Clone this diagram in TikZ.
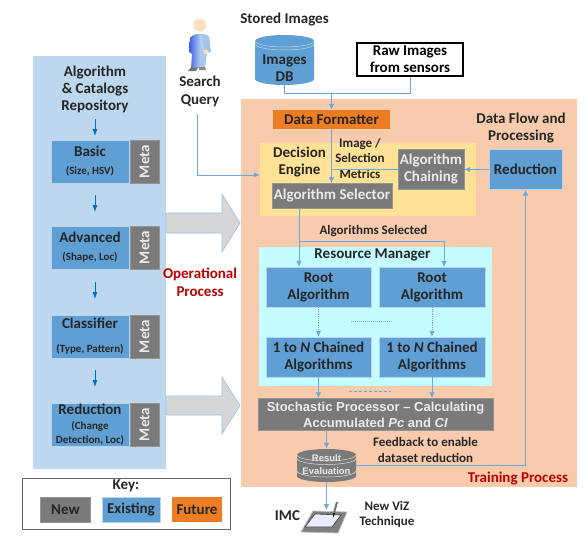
\documentclass[tikz,border=0pt]{standalone}
\usepackage{fontspec}
\setmainfont{Carlito}
\newfontfamily\arialfont{Liberation Sans}
\usetikzlibrary{arrows.meta,positioning}
\definecolor{panelblue}{HTML}{BDD7EE}
\definecolor{boxblue}{HTML}{5F9FD3}
\definecolor{boxgray}{HTML}{7A7A7A}
\definecolor{boxorange}{HTML}{ED7D22}
\definecolor{panelpeach}{HTML}{F7CBAC}
\definecolor{panelyellow}{HTML}{FFE296}
\definecolor{panelcyan}{HTML}{C4FCFF}
\definecolor{linkblue}{HTML}{6FA8DC}
\definecolor{arrowgray}{HTML}{D6D6D6}
\definecolor{darkred}{HTML}{C00000}
\newcommand{\subtext}[1]{{\fontsize{11}{12}\selectfont #1}}
\begin{document}
\begin{tikzpicture}[
  x=1pt, y=-1pt,
  block/.style={inner sep=0pt, align=center,
    font=\fontsize{15}{17}\selectfont\bfseries, text=black!85},
  existing/.style={block, fill=boxblue, draw=linkblue!50, line width=0.4pt},
  newblock/.style={block, fill=boxgray, draw=boxgray!80, line width=0.4pt, text=white!92!black},
  future/.style={block, fill=boxorange},
  meta/.style={newblock, minimum width=43pt, minimum height=29pt, rotate=90},
  repo/.style={existing, minimum width=78pt, minimum height=43pt},
  panel/.style={inner sep=0pt, draw=none},
  label/.style={inner sep=0pt, align=center, text=black!85,
    font=\fontsize{15}{17}\selectfont\bfseries},
  small/.style={label, font=\fontsize{13}{15.5}\selectfont\bfseries},
  redlabel/.style={label, text=darkred},
  arrow/.style={-{Latex[length=6pt,width=5.5pt]}, linkblue, line width=0.8pt},
  link/.style={linkblue, line width=0.8pt},
  dotarrow/.style={arrow, densely dotted, line width=1pt},
  repoarrow/.style={-{Latex[length=7pt,width=5pt]}, blue!45!cyan!80!black, line width=0.8pt},
  bigarrow/.style={fill=arrowgray, draw=linkblue!70, line width=0.6pt},
  rim/.style={x radius=29.5pt, y radius=6pt}
]
\useasboundingbox (0,0) rectangle (588,543);

\node[panel, fill=panelblue, minimum width=133pt, minimum height=413pt] (repository) at (99.5,262.5) {};
\node[panel, fill=panelpeach, minimum width=336pt, minimum height=388pt] (training) at (409,293) {};
\node[panel, fill=panelyellow, minimum width=216pt, minimum height=73pt] (decision) at (368,179.5) {};
\node[panel, fill=panelcyan, minimum width=233pt, minimum height=139pt] (manager) at (375.5,316.5) {};

\fill[boxblue] (255,41) -- (255,79) arc[rim, start angle=180, end angle=360] -- (314,41) arc[rim, start angle=0, end angle=180] -- cycle;
\draw[white!60!boxblue, line width=0.5pt] (255,41) arc[rim, start angle=180, end angle=360]
  (255,44) arc[rim, start angle=180, end angle=360];
\fill[boxgray] (297,455) -- (297,476) arc[rim, start angle=180, end angle=360] -- (356,455) arc[rim, start angle=0, end angle=180] -- cycle;
\draw[white!75!gray, line width=0.5pt] (297,455) arc[rim, start angle=180, end angle=360]
  (297,458.5) arc[rim, start angle=180, end angle=360]
  (297,471) arc[rim, start angle=180, end angle=360];

\node[label] (repotitle) at (95,89.5) {Algorithm\\\& Catalogs\\Repository};
\node[repo] (basic) at (90,161.5) {Basic\\[1pt]\subtext{(Size, HSV)}};
\node[meta] (basicmeta) at (144.5,161.5) {Meta};
\node[repo] (advanced) at (90,247.5) {Advanced\\[1pt]\subtext{(Shape, Loc)}};
\node[meta] (advancedmeta) at (144.5,247.5) {Meta};
\node[repo] (classifier) at (90,336.5) {Classifier\\[7pt]\subtext{(Type, Pattern)}};
\node[meta] (classifiermeta) at (144.5,336.5) {Meta};
\node[repo] (reductionrepo) at (90,424.5) {Reduction\\[-2pt]\subtext{(Change}\\[-3pt]\subtext{Detection, Loc)}};
\node[meta] (reductionmeta) at (144.5,424.5) {Meta};

\node[draw=black!60, line width=0.7pt, minimum width=208pt, minimum height=51pt, inner sep=0pt] (keybox) at (126,503.5) {};
\node[label] (keytitle) at (126,486) {Key:};
\node[newblock, text=black!85, minimum width=50pt, minimum height=25pt] (keynew) at (65.5,509.5) {New};
\node[existing, minimum width=58pt, minimum height=25pt] (keyexisting) at (131,509.5) {Existing};
\node[future, minimum width=50pt, minimum height=25pt] (keyfuture) at (197,509.5) {Future};

\node[label] (storedlabel) at (284.5,20) {Stored Images};
\node[panel, minimum width=59pt, minimum height=50pt] (imagesdb) at (284.5,60) {};
\node[label, yshift=-8pt] (imagesdblabel) at (imagesdb) {Images\\DB};
\node[draw=black, line width=1.4pt, minimum width=106pt, minimum height=33pt, inner sep=0pt,
  align=center, font=\fontsize{15}{17}\selectfont\bfseries] (rawimages) at (410,59.5) {Raw Images\\from sensors};
\node[label] (searchquery) at (200,91) {Search\\[1pt]Query};
\node[future, minimum width=117pt, minimum height=19pt] (formatter) at (331.5,119.5) {Data Formatter};
\node[label] (flowlabel) at (521,128.5) {Data Flow and\\Processing};
\node[label] (decisionlabel) at (299.5,162) {Decision\\Engine};
\node[small] (metricslabel) at (360,158) {Image /\\Selection\\Metrics};
\node[newblock, minimum width=120pt, minimum height=25pt] (selector) at (332,196) {Algorithm Selector};
\node[newblock, minimum width=66pt, minimum height=40pt] (chaining) at (431,169.5) {Algorithm\\Chaining};
\node[existing, minimum width=73pt, minimum height=40pt] (reduction) at (525.5,169.5) {Reduction};
\node[small] (selectedlabel) at (373.5,231) {Algorithms Selected};
\node[label] (managerlabel) at (372.5,255) {Resource Manager};
\node[existing, minimum width=105pt, minimum height=40pt] (rootone) at (318.5,287) {Root\\Algorithm};
\node[existing, minimum width=106pt, minimum height=40pt] (roottwo) at (432,287) {Root\\Algorithm};
\node[existing, minimum width=105pt, minimum height=40pt] (chainedone) at (318.5,357) {1 to \textit{N} Chained\\Algorithms};
\node[existing, minimum width=106pt, minimum height=40pt] (chainedtwo) at (432,357) {1 to \textit{N} Chained\\Algorithms};
\node[newblock, minimum width=235pt, minimum height=32pt, font=\arialfont\fontsize{13}{16}\selectfont\bfseries] (stochastic) at (375.5,414.5)
  {Stochastic Processor – Calculating\\Accumulated \textit{Pc} and \textit{CI}};
\node[panel, minimum width=59pt, minimum height=33pt] (result) at (326.5,465.5) {};
\node[label, yshift=1pt, text=white!92!black, font=\arialfont\fontsize{9.5}{13}\selectfont\bfseries] (resultlabel) at (result) {Result\\Evaluation};
\node[small] (feedbacklabel) at (425.5,450) {Feedback to enable\\dataset reduction};
\node[redlabel] (trainlabel) at (518,479) {Training Process};
\node[redlabel] (oplabel) at (200,282) {Operational\\[1pt]Process};
\node[label] (imclabel) at (287.5,516) {IMC};
\node[small] (vizlabel) at (387,514.5) {New ViZ\\Technique};

\draw[bigarrow] (166,213) -- (222,213) -- (222,194) -- (240,223) -- (222,252) -- (222,233) -- (166,233) -- cycle;
\draw[bigarrow] (166,396) -- (222,396) -- (222,377) -- (240,405.5) -- (222,434) -- (222,415) -- (166,415) -- cycle;

\coordinate (join) at (331.5,93);
\coordinate (queryout) at (197,114);
\coordinate (querybend) at (197,175);
\coordinate (selout) at (299,208.5);
\coordinate (selbranch) at (299,241);
\coordinate (rootin) at (444,267);
\coordinate (dotsa) at (351,321);
\coordinate (dotsb) at (393,321);
\coordinate (dotsc) at (349,391);
\coordinate (dotsd) at (391,391);
\coordinate (resultout) at (356,465);
\coordinate (pen) at (326.5,510);
\coordinate (repoa) at (95,119);
\coordinate (repob) at (95,136);
\coordinate (repoc) at (95,195);
\coordinate (repod) at (95,212);
\coordinate (repoe) at (95,282);
\coordinate (repof) at (95,299);
\coordinate (repog) at (95,370);
\coordinate (repoh) at (95,387);

\draw[repoarrow] (repoa) -- (repob);
\draw[repoarrow] (repoc) -- (repod);
\draw[repoarrow] (repoe) -- (repof);
\draw[repoarrow] (repog) -- (repoh);

\draw[link] (imagesdb.south) |- (join);
\draw[link] (rawimages.south) |- (join);
\draw[arrow] (join) -- (formatter.north);
\draw[arrow] (formatter.south) -- (formatter.south |- selector.north);
\draw[link] (chaining.west) -- (chaining.west -| formatter.south);
\draw[arrow] (reduction.west) -- (chaining.east);
\draw[arrow] (queryout) -- (querybend) -- (decision.west |- querybend);
\draw[arrow] (selout) -- (selout |- rootone.north);
\draw[arrow] (selbranch) -| (rootin);
\draw[dotarrow] (rootone.south) -- (chainedone.north);
\draw[dotarrow] (roottwo.south) -- (chainedtwo.north);
\draw[linkblue, densely dotted, line width=1pt] (dotsa) -- (dotsb);
\draw[linkblue, densely dashed, line width=0.8pt] (dotsc) -- (dotsd);
\draw[arrow] (chainedone.south) -- (chainedone.south |- stochastic.north);
\draw[arrow] (chainedtwo.south) -- (chainedtwo.south |- stochastic.north);
\draw[arrow] (result.north |- stochastic.south) -- (result.north);
\draw[arrow] (resultout) -| (reduction.south);
\draw[arrow] (result.south) -- (pen);

\path[left color=blue!45!linkblue, right color=linkblue!70!white, middle color=linkblue!60!white]
  (190,38) .. controls (193,33) and (205,32) .. (209,37) -- (211,52) -- (207,53) -- (205,68) -- (191,69) -- (192,54) -- (189,52) -- cycle;
\draw[linkblue!40!white, line width=0.6pt] (200,36) -- (204,52);
\fill[black!55] (191,67.5) -- (198,67.5) -- (196,71) -- (188,71) -- cycle;
\fill[black!45] (199,67) -- (205,67) -- (206,70) -- (199,70) -- cycle;
\fill[orange!25!white] (206,52) circle[radius=2.5];
\fill[orange!25!white] (199.7,25) circle[radius=6.5];

\fill[black!50, draw=black!25, line width=0.8pt] (313,511) -- (347,512) -- (338,533) -- (301,532) -- cycle;
\fill[white!92!blue, draw=black!75, line width=0.6pt] (315,514) -- (341,515) -- (332,527) -- (305,527) -- cycle;
\draw[black!55, line width=2pt] (337,502) -- (334,513);
\fill[black] (335,513) -- (333,513) -- (333,518) -- cycle;
\end{tikzpicture}
\end{document}
